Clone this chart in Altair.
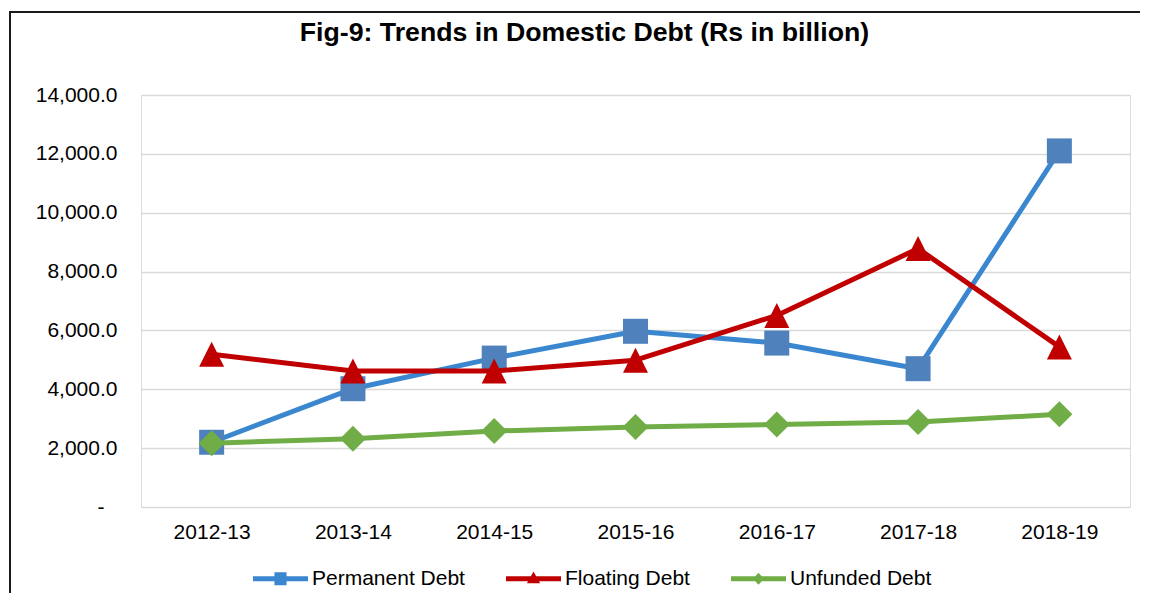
import altair as alt
import pandas as pd

years = ["2012-13", "2013-14", "2014-15", "2015-16", "2016-17", "2017-18", "2018-19"]
permanent = [2200, 4020, 5060, 5970, 5570, 4700, 12100]
floating = [5190, 4620, 4620, 4990, 6510, 8780, 5440]
unfunded = [2170, 2320, 2580, 2720, 2800, 2890, 3150]

series_names = ["Permanent Debt", "Floating Debt", "Unfunded Debt"]
line_colors = ["#3A87CF", "#C00000", "#70AD47"]
marker_colors = ["#4F81BD", "#C00000", "#70AD47"]
marker_shapes = ["square", "M0,-1L1,1L-1,1Z", "diamond"]
marker_sizes = [625, 625, 676]
title_text = ["Fig-9: Trends in Domestic Debt (Rs in billion)"]

rows = []
for name, vals in zip(series_names, [permanent, floating, unfunded]):
    for y, v in zip(years, vals):
        rows.append({"year": y, "series": name, "value": v})
df = pd.DataFrame(rows)

FONT = "Liberation Sans"

x_enc = alt.X("year:O", sort=years, scale=alt.Scale(type="point", padding=0.5),
              axis=alt.Axis(title=None, labelAngle=0, labelFontSize=21, labelFont=FONT,
                            labelColor="#000000", ticks=False, domain=False, grid=False,
                            labelPadding=14))
y_enc = alt.Y("value:Q", scale=alt.Scale(domain=[0, 14000], nice=False),
              axis=alt.Axis(title=None, values=list(range(0, 14001, 2000)),
                            labelExpr="datum.value == 0 ? '-' : format(datum.value, ',.1f')",
                            labelFontSize=21, labelFont=FONT, labelColor="#000000",
                            ticks=False, domain=False, grid=True, gridColor="#D9D9D9",
                            gridWidth=1.5,
                            labelPadding={"condition": {"test": "datum.value === 0", "value": 37},
                                          "value": 24}))

leg_paths = {
    "Permanent Debt": "M-1,-0.09L1,-0.09L1,0.09L-1,0.09Z M-0.22,-0.24L0.22,-0.24L0.22,0.24L-0.22,0.24Z",
    "Floating Debt": "M-1,-0.09L1,-0.09L1,0.09L-1,0.09Z M0,-0.26L0.24,0.16L-0.24,0.16Z",
    "Unfunded Debt": "M-1,-0.09L1,-0.09L1,0.09L-1,0.09Z M0,-0.22L0.2,0L0,0.22L-0.2,0Z",
}
shape_signal = ("datum.value === 'Permanent Debt' ? '%s' : datum.value === 'Floating Debt' ? '%s' : '%s'"
                % (leg_paths["Permanent Debt"], leg_paths["Floating Debt"], leg_paths["Unfunded Debt"]))
fill_signal = ("datum.value === 'Permanent Debt' ? '%s' : datum.value === 'Floating Debt' ? '%s' : '%s'"
               % tuple(line_colors))

legend = alt.Legend(orient="none", direction="horizontal", legendX=112, legendY=456,
                    title=None, symbolSize=3025, symbolStrokeWidth=0, labelFontSize=21,
                    labelFont=FONT, labelColor="#000000", labelLimit=400, labelOffset=4,
                    columnPadding=41, padding=0,
                    symbolType=alt.ExprRef(expr=shape_signal),
                    symbolFillColor=alt.ExprRef(expr=fill_signal),
                    symbolOpacity=1)

color_enc = alt.Color("series:N", sort=series_names,
                      scale=alt.Scale(domain=series_names, range=line_colors),
                      legend=legend)

base = alt.Chart(df)
layers = []
for i, name in enumerate(series_names):
    ln = base.transform_filter(alt.datum.series == name).mark_line(
        strokeWidth=5, strokeJoin="round").encode(x=x_enc, y=y_enc, color=color_enc)
    pt = base.transform_filter(alt.datum.series == name).mark_point(
        shape=marker_shapes[i], filled=True, size=marker_sizes[i], opacity=1,
        color=marker_colors[i], strokeWidth=0).encode(x=x_enc, y=y_enc)
    layers += [ln, pt]

frame_data = alt.Data(values=[{"k": 1}])
frame_v = alt.Chart(frame_data).mark_rule(color="#1a1a1a", strokeWidth=2).encode(
    x=alt.value(-131), y=alt.value(-83), y2=alt.value(600))
frame_h = alt.Chart(frame_data).mark_rule(color="#1a1a1a", strokeWidth=2).encode(
    x=alt.value(-132), x2=alt.value(999), y=alt.value(-83))

title_layer = alt.Chart(pd.DataFrame({"t": title_text})).mark_text(
    font=FONT, fontSize=26.7, fontWeight="bold", color="#000000",
    align="center", baseline="alphabetic").encode(
    text="t:N", x=alt.value(443.5), y=alt.value(-54))

chart = alt.layer(*layers, frame_v, frame_h, title_layer).properties(
    width=989, height=412,
    autosize=alt.AutoSizeParams(type="none"),
    padding={"left": 133, "top": 87, "right": 10, "bottom": 86},
).configure_view(stroke=None).configure(background="white")

chart.save("out.html", embed_options={"renderer": "svg", "actions": False})
